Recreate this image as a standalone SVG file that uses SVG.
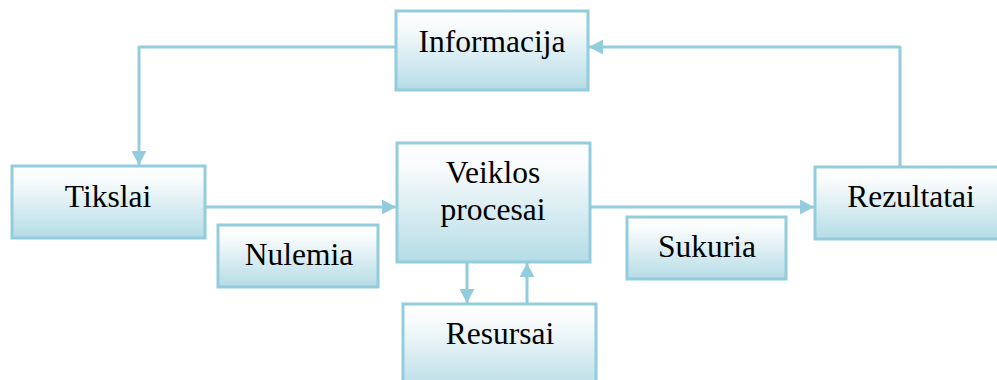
<svg xmlns="http://www.w3.org/2000/svg" width="997" height="380" viewBox="0 0 997 380">
<style>
.box{fill:url(#g);stroke:#93cddd;stroke-width:3}
.t{font-family:"Liberation Serif","Times New Roman",serif;font-size:31.5px;fill:#000;text-anchor:middle}
.c{fill:none;stroke:#93cddd;stroke-width:3;stroke-linejoin:round}
</style>
<defs>
<linearGradient id="g" x1="0" y1="0" x2="0" y2="1">
<stop offset="0" stop-color="#ffffff"/>
<stop offset="0.2" stop-color="#f8fbfc"/>
<stop offset="1" stop-color="#b5dce6"/>
</linearGradient>
<marker id="a" viewBox="0 0 14 15" refX="14" refY="7.5" markerWidth="14" markerHeight="15" markerUnits="userSpaceOnUse" orient="auto">
<path d="M0,0 L14,7.5 L0,15 Z" fill="#93cddd"/>
</marker>
</defs>
<g id="connectors">
<path class="c" d="M396,47 H139 V165" marker-end="url(#a)"/>
<path class="c" d="M900,167 V47 H589" marker-end="url(#a)"/>
<path class="c" d="M205,207 H396" marker-end="url(#a)"/>
<path class="c" d="M590,207 H814" marker-end="url(#a)"/>
<path class="c" d="M467,262 V303" marker-end="url(#a)"/>
<path class="c" d="M527,304 V263" marker-end="url(#a)"/>
</g>
<g id="informacija"><rect class="box" x="396" y="11" width="192" height="79"/><text class="t" x="492" y="52">Informacija</text></g>
<g id="tikslai"><rect class="box" x="12" y="166" width="193" height="72"/><text class="t" x="108" y="207">Tikslai</text></g>
<g id="veiklos"><rect class="box" x="397" y="143" width="193" height="119"/><text class="t" x="493" y="183">Veiklos</text><text class="t" x="493" y="220">procesai</text></g>
<g id="rezultatai"><rect class="box" x="815" y="167" width="195" height="72"/><text class="t" x="911" y="207">Rezultatai</text></g>
<g id="nulemia"><rect class="box" x="218" y="225" width="160" height="62"/><text class="t" x="299" y="265">Nulemia</text></g>
<g id="sukuria"><rect class="box" x="627" y="217" width="159" height="62"/><text class="t" x="707" y="257">Sukuria</text></g>
<g id="resursai"><rect class="box" x="403" y="304" width="193" height="90"/><text class="t" x="500" y="344">Resursai</text></g>
</svg>
